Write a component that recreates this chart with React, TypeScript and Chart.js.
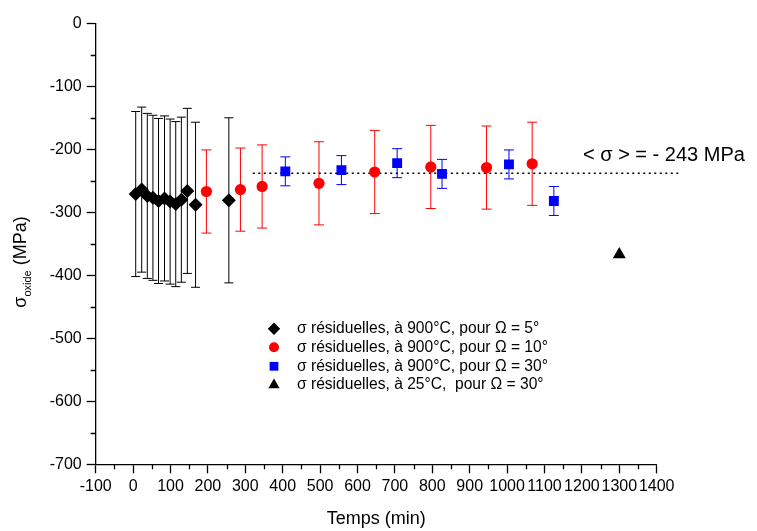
import React, { useEffect, useRef } from 'react';
import { Chart, registerables } from 'chart.js';
import { drawPoint } from 'chart.js/helpers';

Chart.register(...registerables);

// ---- data ----
const blackTime = [7, 23, 38, 53, 68, 84, 99, 114, 129, 145, 167, 256];
const blackStress = [-271, -264, -274, -277, -282, -278, -283, -287, -280, -266, -288, -281];
const blackErr = [131, 131, 131, 131, 131, 131, 131, 131, 131, 131, 131, 131];

const redTime = [196, 287, 345, 497, 646, 796, 945, 1067];
const redStress = [-267, -264, -259, -254, -236, -228, -229, -223];
const redErr = [66, 66, 66, 66, 66, 66, 66, 66];

const blueTime = [407, 557, 706, 826, 1005, 1125];
const blueStress = [-235, -233, -222, -239, -224, -282];
const blueErr = [23, 23, 23, 23, 23, 23];

const triTime = [1300];
const triStress = [-367];

const meanTime = [320, 1460];
const meanStress = [-238, -238];
const meanLabel = '< σ > = - 243 MPa';

const legendLabels = [
  'σ résiduelles, à 900°C, pour Ω = 5°',
  'σ résiduelles, à 900°C, pour Ω = 10°',
  'σ résiduelles, à 900°C, pour Ω = 30°',
  'σ résiduelles, à 25°C,  pour Ω = 30°',
];

const xTitle = 'Temps (min)';
const FONT = "'Liberation Sans', Arial, sans-serif";

const toPts = (xs: number[], ys: number[]) => xs.map((x, i) => ({ x, y: ys[i] }));

const errorSets = [
  { xs: blackTime, ys: blackStress, es: blackErr, color: '#000000', cap: 4.5 },
  { xs: redTime, ys: redStress, es: redErr, color: '#ff0000', cap: 5 },
  { xs: blueTime, ys: blueStress, es: blueErr, color: '#0000ff', cap: 5 },
];

const errorBarPlugin = {
  id: 'errorBars',
  beforeDatasetsDraw(chart: any) {
    const { ctx, scales } = chart;
    const xs = scales.x, ys = scales.y;
    ctx.save();
    ctx.lineWidth = 1;
    for (const set of errorSets) {
      ctx.strokeStyle = set.color;
      set.xs.forEach((xv, i) => {
        const px = xs.getPixelForValue(xv);
        const top = ys.getPixelForValue(set.ys[i] + set.es[i]);
        const bot = ys.getPixelForValue(set.ys[i] - set.es[i]);
        ctx.beginPath();
        ctx.moveTo(px, top);
        ctx.lineTo(px, bot);
        ctx.moveTo(px - set.cap, top);
        ctx.lineTo(px + set.cap, top);
        ctx.moveTo(px - set.cap, bot);
        ctx.lineTo(px + set.cap, bot);
        ctx.stroke();
      });
    }
    ctx.restore();
  },
};

const decorPlugin = {
  id: 'decor',
  afterDraw(chart: any) {
    const { ctx, scales, chartArea } = chart;
    const xs = scales.x, ys = scales.y;
    ctx.save();
    // minor ticks
    ctx.strokeStyle = '#000';
    ctx.lineWidth = 1.3;
    ctx.beginPath();
    for (let v = -50; v < 1400; v += 100) {
      const px = Math.round(xs.getPixelForValue(v)) + 0.5;
      ctx.moveTo(px, chartArea.bottom);
      ctx.lineTo(px, chartArea.bottom + 5);
    }
    for (let v = -50; v > -700; v -= 100) {
      const py = Math.round(ys.getPixelForValue(v)) + 0.5;
      ctx.moveTo(chartArea.left, py);
      ctx.lineTo(chartArea.left - 5, py);
    }
    ctx.stroke();

    // mean annotation
    ctx.fillStyle = '#000';
    ctx.font = `20px ${FONT}`;
    ctx.textBaseline = 'middle';
    ctx.textAlign = 'left';
    ctx.fillText(meanLabel, 583, 155);

    // legend
    const styles = [
      { pointStyle: 'rectRot', radius: 6.2, color: '#000' },
      { pointStyle: 'circle', radius: 5, color: '#ff0000' },
      { pointStyle: 'rect', radius: 6.2, color: '#0000ff' },
      { pointStyle: 'triangle', radius: 6.5, color: '#000' },
    ];
    const rows = [328.7, 347.3, 366.3, 385];
    ctx.font = `15.6px ${FONT}`;
    styles.forEach((s, i) => {
      ctx.fillStyle = s.color;
      drawPoint(ctx, { pointStyle: s.pointStyle, radius: s.radius, rotation: 0, borderWidth: 0 } as any, 274, rows[i]);
      ctx.fillStyle = '#000';
      ctx.fillText(legendLabels[i], 297, rows[i]);
    });

    // y title with subscript
    ctx.translate(26, 262);
    ctx.rotate(-Math.PI / 2);
    const big = `18px ${FONT}`;
    const small = `11px ${FONT}`;
    ctx.font = big;
    const wSig = ctx.measureText('σ').width;
    const wPar = ctx.measureText(' (MPa)').width;
    ctx.font = small;
    const wSub = ctx.measureText('oxide').width;
    const total = wSig + wSub + wPar;
    let x0 = -total / 2;
    ctx.textBaseline = 'alphabetic';
    ctx.font = big;
    ctx.fillText('σ', x0, 0);
    x0 += wSig;
    ctx.font = small;
    ctx.fillText('oxide', x0, 5);
    x0 += wSub;
    ctx.font = big;
    ctx.fillText(' (MPa)', x0, 0);
    ctx.restore();
  },
};

export default function App() {
  const ref = useRef<HTMLCanvasElement>(null);
  useEffect(() => {
    document.body.style.margin = '0';
    const canvas = ref.current!;
    const chart = new Chart(canvas, {
      type: 'scatter',
      data: {
        datasets: [
          {
            label: legendLabels[0],
            data: toPts(blackTime, blackStress),
            pointStyle: 'rectRot',
            pointRadius: 7,
            backgroundColor: '#000',
            borderColor: '#000',
            borderWidth: 0,
          },
          {
            label: legendLabels[1],
            data: toPts(redTime, redStress),
            pointStyle: 'circle',
            pointRadius: 5.6,
            backgroundColor: '#ff0000',
            borderColor: '#ff0000',
            borderWidth: 0,
          },
          {
            label: legendLabels[2],
            data: toPts(blueTime, blueStress),
            pointStyle: 'rect',
            pointRadius: 7,
            backgroundColor: '#0000ff',
            borderColor: '#0000ff',
            borderWidth: 0,
          },
          {
            label: legendLabels[3],
            data: toPts(triTime, triStress),
            pointStyle: 'triangle',
            pointRadius: 7.5,
            backgroundColor: '#000',
            borderColor: '#000',
            borderWidth: 0,
          },
          {
            label: 'mean',
            data: toPts(meanTime, meanStress),
            showLine: true,
            pointRadius: 0,
            borderColor: '#000',
            borderWidth: 1.5,
            borderDash: [2, 3.5],
            clip: false as any,
          } as any,
        ],
      },
      options: {
        responsive: false,
        animation: false,
        events: [],
        layout: { padding: { top: 23.3, right: 100.3, left: 0, bottom: 0 } },
        plugins: { legend: { display: false }, tooltip: { enabled: false } },
        scales: {
          x: {
            type: 'linear',
            min: -100,
            max: 1400,
            afterFit: (s: any) => { s.height = 66.7; },
            border: { display: true, color: '#000', width: 1.3 },
            grid: { drawOnChartArea: false, tickLength: 9, tickColor: '#000', tickWidth: 1.3 },
            ticks: {
              stepSize: 100,
              autoSkip: false,
              maxRotation: 0,
              minRotation: 0,
              padding: 4,
              color: '#000',
              font: { family: FONT, size: 16 },
              callback: (v: any) => String(v),
            },
            title: {
              display: true,
              text: xTitle,
              color: '#000',
              font: { family: FONT, size: 18 },
              padding: { top: 0, bottom: 1 },
            },
          },
          y: {
            type: 'linear',
            min: -700,
            max: 0,
            afterFit: (s: any) => { s.width = 95.7; },
            border: { display: true, color: '#000', width: 1.3 },
            grid: { drawOnChartArea: false, tickLength: 9, tickColor: '#000', tickWidth: 1.3 },
            ticks: {
              stepSize: 100,
              padding: 5,
              color: '#000',
              font: { family: FONT, size: 16 },
              callback: (v: any) => String(v),
            },
          },
        },
      },
      plugins: [errorBarPlugin, decorPlugin],
    } as any);
    return () => chart.destroy();
  }, []);
  return <canvas ref={ref} width={757} height={531} style={{ display: 'block', width: 757, height: 531 }} />;
}
